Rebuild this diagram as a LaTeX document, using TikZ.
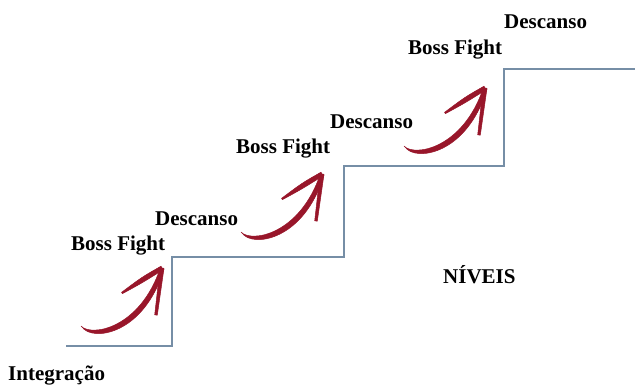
\documentclass[tikz,border=0pt]{standalone}
\usepackage{fontspec}
\setmainfont{Liberation Serif}
\definecolor{stairline}{RGB}{118,142,166}
\definecolor{brushred}{RGB}{152,22,42}
\tikzset{
  label/.style={font=\bfseries\fontsize{21}{23}\selectfont, inner sep=0pt, anchor=base west},
  stairs/.style={draw=stairline, line width=1.2pt, line join=miter},
  brush/.style={fill=brushred, draw=brushred, line width=0.5pt, line join=round},
  brusharrow/.pic={
    % curved body, thin at the tail and thicker towards the tip
    \path[brush] (0,0) .. controls (10,15) and (62,8) .. (82,-58)
      -- (78.5,-59.5) .. controls (58,2) and (9,10) .. (-1,-1) -- cycle;
    % left barb
    \path[brush] (81,-57.2) .. controls (60,-44) .. (40.5,-33.4)
      -- (39.5,-34.6) .. controls (60,-50) .. (79,-60.8) -- cycle;
    % right barb
    \path[brush] (82,-58.7) .. controls (79.5,-35) .. (75.3,-11.8)
      -- (72.7,-12.2) .. controls (76,-35) .. (78,-59.3) -- cycle;
  }
}
\begin{document}
\begin{tikzpicture}[x=1pt, y=-1pt]
  \useasboundingbox (0,0) rectangle (635,384);

  % staircase outline
  \coordinate (s0) at (66,346);
  \coordinate (s1) at (172,346);
  \coordinate (s2) at (172,257);
  \coordinate (s3) at (344,257);
  \coordinate (s4) at (344,166);
  \coordinate (s5) at (504,166);
  \coordinate (s6) at (504,69);
  \coordinate (s7) at (635,69);
  \draw[stairs] (s0) -- (s1) -- (s2) -- (s3) -- (s4) -- (s5) -- (s6) -- (s7);

  % rising arrows on each step
  \pic (a1) at (82,327) {brusharrow};
  \pic (a2) at (242,233) {brusharrow};
  \pic (a3) at (405,147) {brusharrow};

  % labels
  \node[label] (int) at (8,380) {Integração};
  \node[label] (bf1) at (71,250) {Boss Fight};
  \node[label] (de1) at (155,225) {Descanso};
  \node[label] (bf2) at (236,153) {Boss Fight};
  \node[label] (de2) at (330,128) {Descanso};
  \node[label] (bf3) at (408,54) {Boss Fight};
  \node[label] (de3) at (504,28) {Descanso};
  \node[label] (niv) at (443,283) {NÍVEIS};
\end{tikzpicture}
\end{document}
